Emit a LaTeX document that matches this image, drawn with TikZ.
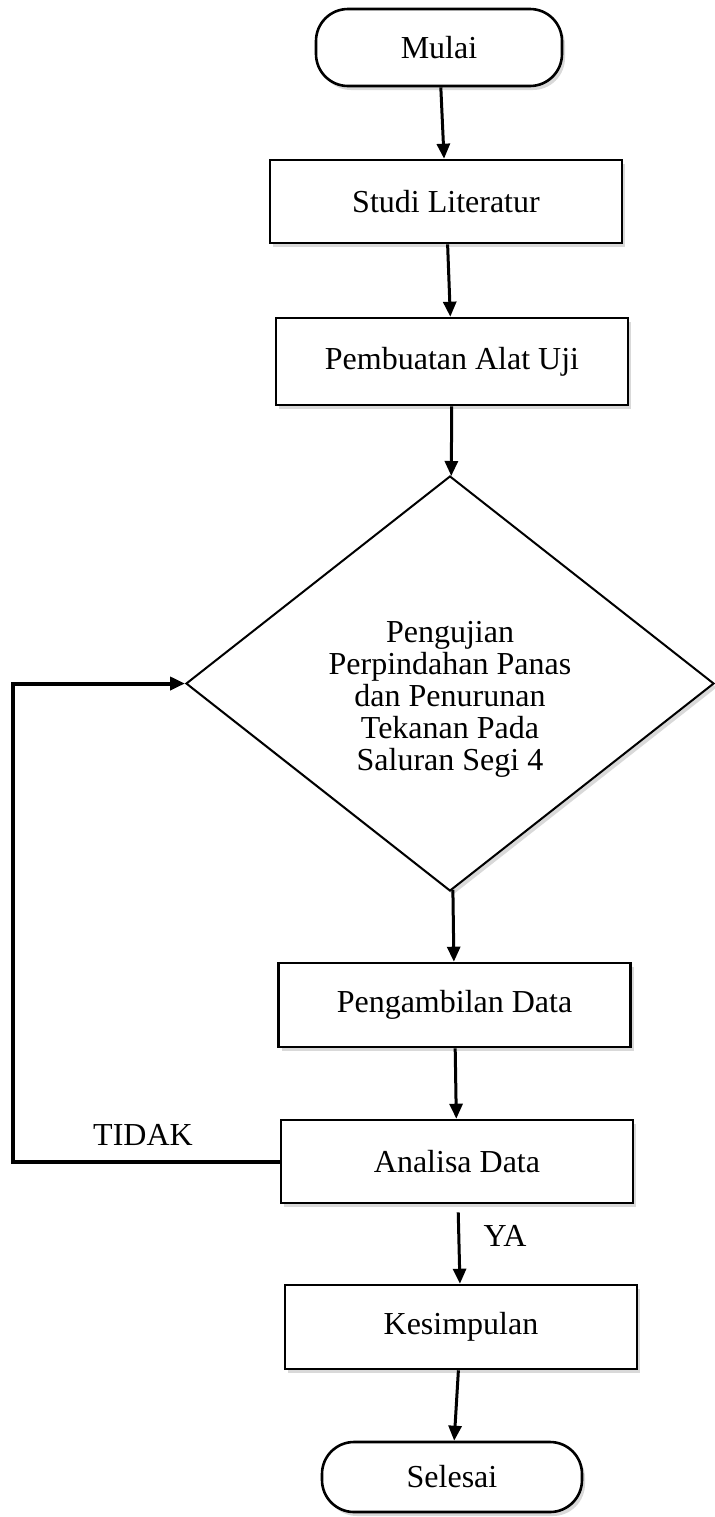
\documentclass[tikz,border=0pt]{standalone}
\usepackage{fontspec}
\setmainfont{Liberation Serif}
\usetikzlibrary{shapes.geometric,arrows.meta,shadows}
\begin{document}
\begin{tikzpicture}[x=0.5pt, y=-0.5pt,
  every node/.style={font=\fontsize{16}{16}\selectfont},
  kotak/.style={draw, line width=1.3pt, fill=white, rectangle, minimum width=176pt, minimum height=42pt,
    drop shadow={opacity=0.3, shadow xshift=1.5pt, shadow yshift=-2pt}},
  ujung/.style={kotak, rounded corners=16pt},
  belah/.style={draw, line width=1pt, fill=white, diamond, minimum width=264pt, minimum height=207.5pt,
    drop shadow={opacity=0.3, shadow xshift=1.5pt, shadow yshift=-2pt}},
  panah/.style={line width=1.5pt, -{Triangle[length=7.5pt, width=6.5pt]}},
  balik/.style={line width=2pt, -{Triangle[length=7.5pt, width=6.5pt]}}]
\useasboundingbox (0,0) rectangle (714,1517);
\node[ujung, minimum width=123pt, minimum height=38.5pt] (mulai) at (439,47.5) {Mulai};
\node[kotak, minimum height=41.5pt] (studi) at (446,201.5) {Studi Literatur};
\node[kotak, minimum height=43.5pt] (buat) at (452,361.5) {Pembuatan Alat Uji};
\node[belah, label={[align=center, yshift=-8pt]center:Pengujian\\Perpindahan Panas\\dan Penurunan\\Tekanan Pada\\Saluran Segi 4}] (uji) at (450,683.5) {};
\node[kotak] (ambil) at (454.5,1005) {Pengambilan Data};
\node[kotak, minimum height=41.5pt] (analisa) at (457,1161.5) {Analisa Data};
\node[kotak] (simpul) at (461,1327) {Kesimpulan};
\node[ujung, minimum width=130pt, minimum height=35pt] (selesai) at (452,1477) {Selesai};
\node (tidak) at (143,1135) {TIDAK};
\node (ya) at (505,1236) {YA};
\coordinate (pojok) at (13,0);
\draw[panah] (mulai) -- (studi);
\draw[panah] (studi) -- (buat);
\draw[panah] (buat) -- (uji);
\draw[panah] (uji) -- (ambil);
\draw[panah] (ambil) -- (analisa);
\draw[panah, shorten <=4pt] (analisa) -- (simpul);
\draw[panah] (simpul) -- (selesai);
\draw[balik] (analisa.west) -- (analisa.west -| pojok) |- (uji.west);
\end{tikzpicture}
\end{document}
